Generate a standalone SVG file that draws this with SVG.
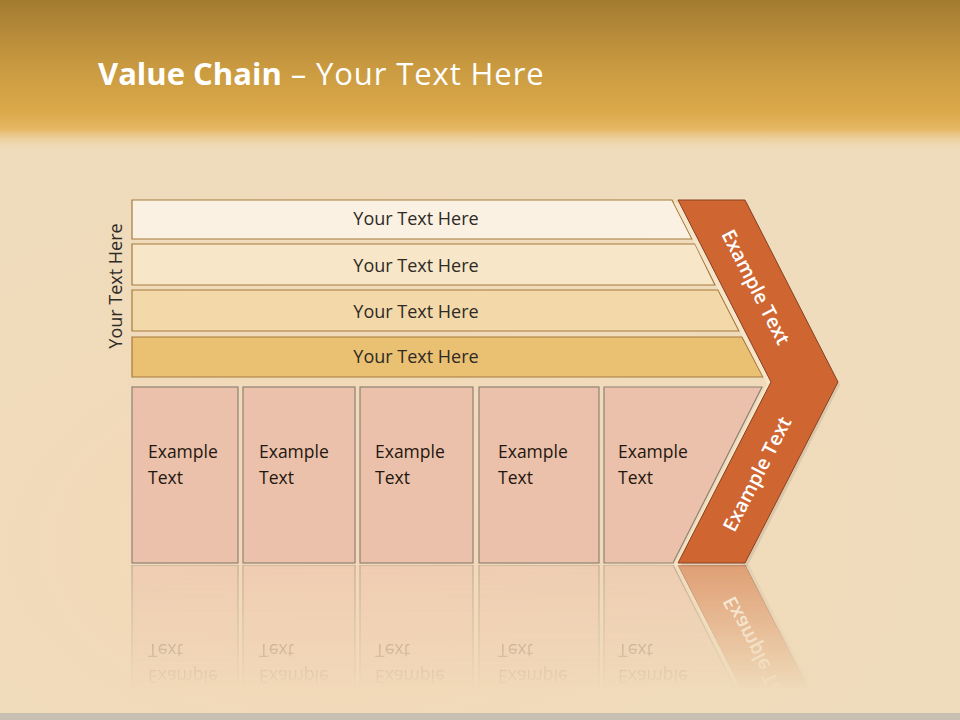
<svg xmlns="http://www.w3.org/2000/svg" xmlns:xlink="http://www.w3.org/1999/xlink" width="960" height="720" viewBox="0 0 960 720">
<defs>
<linearGradient id="hdr" x1="0" y1="0" x2="0" y2="1">
<stop offset="0" stop-color="#a37b31"/>
<stop offset="0.45" stop-color="#c99a40"/>
<stop offset="0.75" stop-color="#dca94a"/>
<stop offset="0.86" stop-color="#e4b35a" stop-opacity="0.9"/>
<stop offset="1" stop-color="#efd2a2" stop-opacity="0"/>
</linearGradient>
<radialGradient id="warm" cx="0.35" cy="0.7" r="0.7">
<stop offset="0" stop-color="#f6d8b8"/>
<stop offset="1" stop-color="#efd9b6" stop-opacity="0"/>
</radialGradient>
<linearGradient id="fade" x1="0" y1="0" x2="0" y2="1">
<stop offset="0" stop-color="#fff" stop-opacity="0.6"/>
<stop offset="0.85" stop-color="#fff" stop-opacity="0"/>
</linearGradient>
<mask id="refl" maskUnits="userSpaceOnUse" x="0" y="560" width="960" height="160">
<rect x="0" y="565" width="960" height="148" fill="url(#fade)"/>
</mask>
<style>
.row{stroke:#a67b3c;stroke-width:1.2}
.rt{font-family:"Open Sans","Noto Sans",sans-serif;font-size:18px;fill:#2e2a26;text-anchor:middle}
.box{fill:#ebc1ab;stroke:#8c8276;stroke-width:1.2}
.bt{font-family:"Open Sans","Noto Sans",sans-serif;font-size:17.5px;fill:#24170f}
.chev{fill:#cf6632;stroke:#8a4020;stroke-width:1}
.ct{font-family:"Open Sans","Noto Sans",sans-serif;font-size:19.5px;font-weight:600;fill:#ffffff;text-anchor:middle}
</style>
</defs>
<rect x="0" y="0" width="960" height="720" fill="#efdcbc"/>
<rect x="0" y="130" width="960" height="590" fill="url(#warm)"/>
<rect x="0" y="0" width="960" height="150" fill="url(#hdr)"/>
<rect x="0" y="713" width="960" height="7" fill="#c8c1b3"/>
<text x="98" y="85" font-family="'Open Sans','Noto Sans',sans-serif" font-size="31" fill="#ffffff"><tspan font-weight="bold">Value Chain</tspan><tspan letter-spacing="0.9"> – Your Text Here</tspan></text>

<g id="rows">
<g id="row1"><polygon class="row" points="132,200 672,200 692,239 132,239" fill="#fbf1e3"/><text class="rt" x="416" y="225">Your Text Here</text></g>
<g id="row2"><polygon class="row" points="132,244 695,244 715,285 132,285" fill="#f8e6c8"/><text class="rt" x="416" y="272">Your Text Here</text></g>
<g id="row3"><polygon class="row" points="132,290 718,290 739,331 132,331" fill="#f3d9aa"/><text class="rt" x="416" y="318">Your Text Here</text></g>
<g id="row4"><polygon class="row" points="132,337 742,337 763,377 132,377" fill="#eac172"/><text class="rt" x="416" y="363">Your Text Here</text></g>
</g>
<g id="sidelabel"><text class="rt" transform="translate(122,286) rotate(-90)" x="0" y="0">Your Text Here</text></g>

<g id="boxes">
<g id="box1"><rect class="box" x="132" y="387" width="106" height="176"/><text class="bt" x="148" y="458">Example</text><text class="bt" x="148" y="484">Text</text></g>
<g id="box2"><rect class="box" x="243" y="387" width="112" height="176"/><text class="bt" x="259" y="458">Example</text><text class="bt" x="259" y="484">Text</text></g>
<g id="box3"><rect class="box" x="360" y="387" width="113" height="176"/><text class="bt" x="375" y="458">Example</text><text class="bt" x="375" y="484">Text</text></g>
<g id="box4"><rect class="box" x="479" y="387" width="120" height="176"/><text class="bt" x="498" y="458">Example</text><text class="bt" x="498" y="484">Text</text></g>
<g id="box5"><polygon class="box" points="604,387 762,387 673,563 604,563"/><text class="bt" x="618" y="458">Example</text><text class="bt" x="618" y="484">Text</text></g>
</g>

<g id="chevron">
<polygon points="674,203 741,203 834,384 741,566 674,566 767,384" fill="#f6e6cb" opacity="0.9"/>
<polygon points="680,202 747,202 840,385 747,567 680,567 773,385" fill="#9a8f80" opacity="0.25"/>
<polygon class="chev" points="678,200 745,200 838,382 745,563 678,563 771,382"/>
<text class="ct" transform="translate(756,287) rotate(62.8)" x="0" y="7">Example Text</text>
<text class="ct" transform="translate(757,474) rotate(-62.8)" x="0" y="7">Example Text</text>
</g>

<g id="reflection" mask="url(#refl)" opacity="0.85">
<g transform="translate(0,1128) scale(1,-1)">
<use xlink:href="#boxes"/>
<use xlink:href="#chevron"/>
</g>
</g>
</svg>
